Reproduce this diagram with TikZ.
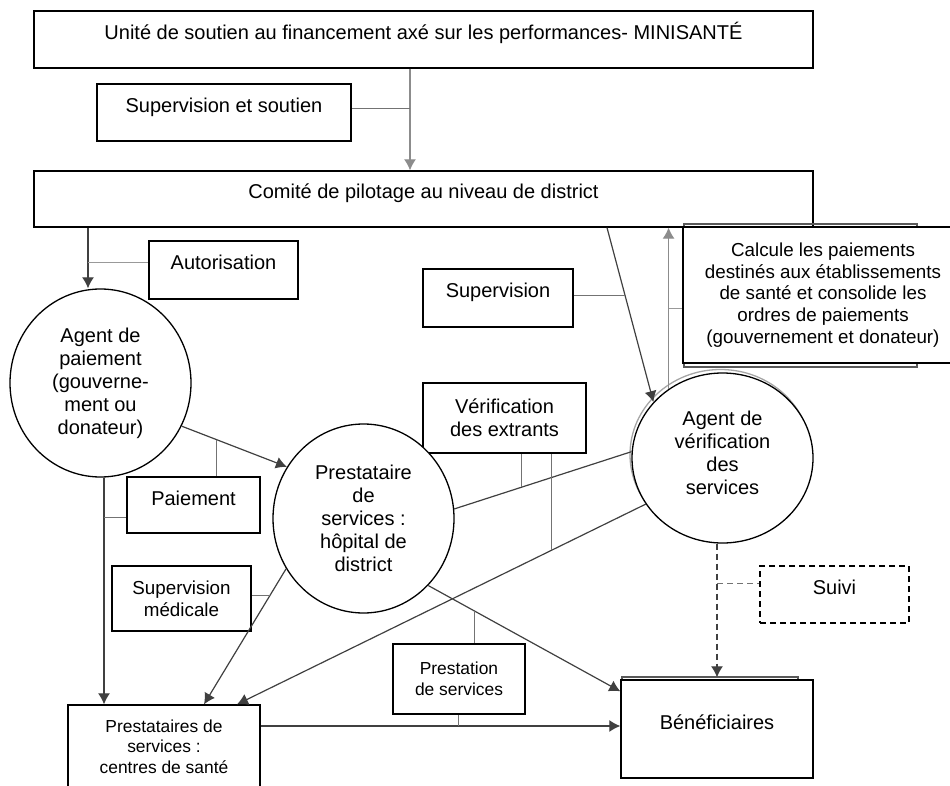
\documentclass[tikz,border=0pt]{standalone}
\usepackage{fontspec}
\setmainfont{Liberation Sans}
\usetikzlibrary{arrows.meta,shapes.geometric}

\begin{document}
\begin{tikzpicture}[x=1pt,y=-1pt,
  >={Latex[length=11pt,width=12pt]},
  every node/.style={font=\fontsize{20}{23}\selectfont},
  box/.style={draw,line width=1.3pt,fill=white,inner sep=0pt,align=center},
  oneline/.style={text height=7pt,text depth=7pt},
  bubble/.style={draw,ellipse,line width=1.3pt,fill=white,inner sep=0pt,align=center,minimum width=181pt},
  small/.style={font=\fontsize{17.4}{20.5}\selectfont},
  medium/.style={font=\fontsize{18.8}{21.7}\selectfont},
  dashline/.style={dash pattern=on 6pt off 4pt},
  flow/.style={draw=black!75,line width=1.2pt,->},
  tie/.style={draw=black!55,line width=1.2pt},
  backing/.style={draw=black!65,line width=1.5pt}]
\useasboundingbox (0,0) rectangle (950,786);
\clip (0,0) rectangle (950,786);

\node[box,oneline,minimum width=779pt,minimum height=57pt] (top) at (423.5,39.5) {Unité de soutien au financement axé sur les performances- MINISANTÉ};
\node[box,oneline,minimum width=254pt,minimum height=57pt] (sousup) at (224,112.5) {Supervision et soutien};
\node[box,oneline,minimum width=779pt,minimum height=56pt] (comite) at (423.5,199) {Comité de pilotage au niveau de district};
\node[box,oneline,minimum width=149pt,minimum height=58pt] (auto) at (223.5,270) {Autorisation};
\draw[backing] (684,224) rectangle (917,367);
\node[box,medium,minimum width=280pt,minimum height=136pt] (calc) at (823,295) {Calcule les paiements\\destinés aux établissements\\de santé et consolide les\\ordres de paiements\\(gouvernement et donateur)};
\node[box,oneline,minimum width=150pt,minimum height=58pt] (supv) at (498,298) {Supervision};
\node[box,minimum width=163pt,minimum height=70pt] (verifx) at (504.5,418) {Vérification\\des extrants};
\node[bubble,minimum height=188pt] (pay) at (100.5,383) {Agent de\\paiement\\(gouverne-\\ment ou\\donateur)};
\node[bubble,minimum height=189pt] (hosp) at (363.5,518.5) {Prestataire\\de\\services :\\hôpital de\\district};
\draw[draw=black!35,line width=1.3pt] (720.5,454.5) ellipse (90.5 and 85);
\node[bubble,minimum height=170pt,text depth=11pt] (verif) at (722.5,458) {Agent de\\vérification\\des\\services};
\node[box,oneline,minimum width=133pt,minimum height=56pt] (paie) at (193.5,505) {Paiement};
\node[box,medium,minimum width=139pt,minimum height=65pt] (supmed) at (181.5,598.5) {Supervision\\médicale};
\node[box,oneline,dashline,minimum width=149pt,minimum height=57pt] (suivi) at (834.5,594.5) {Suivi};
\node[box,small,minimum width=132pt,minimum height=70pt] (prest) at (459,679) {Prestation\\de services};
\node[box,small,minimum width=192pt,minimum height=83pt] (cent) at (164,746.5) {Prestataires de\\services :\\centres de santé};
\draw[backing] (622,677) rectangle (798,770);
\node[box,oneline,minimum width=192pt,minimum height=98pt] (benef) at (717,729) {Bénéficiaires};

\draw[flow,draw=black!45] (top.south -| 410,0) -- coordinate[pos=0.39] (jsous) (comite.north -| 410,0);
\draw[tie] (jsous) -- (jsous -| sousup.east);
\draw[flow] (comite.south -| 88,0) -- coordinate[pos=0.58] (jauto) (pay.north -| 88,0);
\draw[tie,draw=black!40] (jauto) -- (jauto -| auto.west);
\draw[flow] (pay.-28.4) -- coordinate[pos=0.33] (jpaie) (hosp.146.6);
\draw[tie] (jpaie) -- (jpaie |- paie.north);
\draw[flow] (pay.south -| 104,0) -- coordinate[pos=0.175] (jpaie2) ([xshift=-60pt]cent.north);
\draw[tie] (jpaie2) -- (jpaie2 -| paie.west);
\draw[flow] (hosp.-147.8) -- coordinate[pos=0.2] (jmed) ([xshift=40pt]cent.north);
\draw[tie] (jmed) -- (jmed -| supmed.east);
\draw[flow] (comite.south -| 607,0) -- coordinate[pos=0.39] (jsupv) (verif.141.1);
\draw[tie] (jsupv) -- (jsupv -| supv.east);
\draw[flow,draw=black!45] (verif.128.7) -- coordinate[pos=0.5] (jcalc) (verif.128.7 |- comite.south);
\draw[tie,draw=black!40] (jcalc) -- (jcalc -| calc.west);
\draw[flow,-] (hosp.6.5) -- coordinate[pos=0.38] (jx1) (verif.176.8);
\draw[tie] (jx1) -- (jx1 |- verifx.south);
\draw[flow] (verif.-149.2) -- coordinate[pos=0.23] (jx2) ([xshift=73pt]cent.north);
\draw[tie] (jx2) -- (jx2 |- verifx.south);
\draw[flow] (hosp.-46.3) -- coordinate[pos=0.24] (jprest) ([yshift=-12pt]benef.north west);
\draw[tie] (jprest) -- (jprest |- prest.north);
\draw[flow] ([yshift=20.5pt]cent.east) -- coordinate[pos=0.55] (jprest2) ([yshift=3pt]benef.west);
\draw[tie] (jprest2) -- (jprest2 |- prest.south);
\draw[flow,dashline] (verif.south -| benef.north) -- coordinate[pos=0.3] (jsuivi) ([yshift=2pt]benef.north);
\draw[tie,dashline] (jsuivi) -- (jsuivi -| suivi.west);
\end{tikzpicture}
\end{document}
